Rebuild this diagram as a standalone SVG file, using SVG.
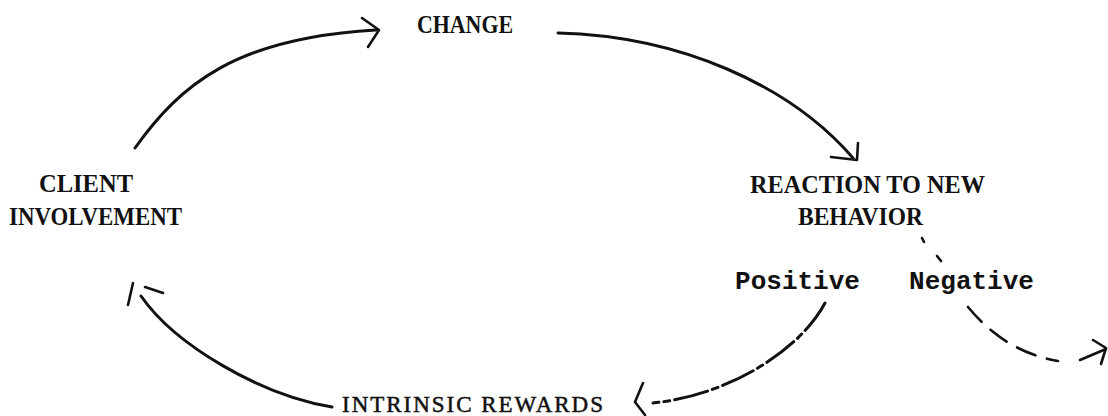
<svg xmlns="http://www.w3.org/2000/svg" width="1108" height="416" viewBox="0 0 1108 416">
  <style>
    .lbl { font-family: "Liberation Serif", "DejaVu Serif", serif; font-size: 25px; font-weight: bold; fill: #111; }
    .mono { font-family: "Liberation Mono", "DejaVu Sans Mono", monospace; font-size: 26px; font-weight: bold; fill: #111; }
    .light { font-weight: normal; font-size: 23px; stroke: #111; stroke-width: 0.5; }
    .ink { fill: none; stroke: #111; stroke-width: 3; stroke-linecap: round; stroke-linejoin: round; }
    .thin { stroke-width: 2.6; }
    .dash { stroke-dasharray: 20 12; }
    .broken { stroke-dasharray: 34 5 6 5; }
  </style>
  <rect width="1108" height="416" fill="#fff"/>

  <g id="connectors">
    <!-- client involvement -> change -->
    <path class="ink" d="M135,148 C180,85 235,38 376,30"/>
    <path class="ink thin" d="M362,18 L379,30 L368,47"/>
    <!-- change -> reaction -->
    <path class="ink" d="M558,33 C680,36 790,85 853,158"/>
    <path class="ink thin" d="M858,143 L857,160 L831,157"/>
    <!-- reaction -> negative (dotted lead) -->
    <path class="ink thin" d="M922,238 L924,242"/>
    <path class="ink thin" d="M937,256 L941,261"/>
    <!-- negative -> out -->
    <path class="ink thin dash" d="M968,307 Q1005,352 1058,361"/>
    <path class="ink thin" d="M1080,360 L1106,349"/>
    <path class="ink thin" d="M1093,340 L1106,348 L1101,364"/>
    <!-- positive -> intrinsic rewards -->
    <path class="ink broken" d="M825,303 C800,350 730,395 653,403"/>
    <path class="ink thin" d="M643,383 L635,402 L645,415"/>
    <!-- intrinsic rewards -> client involvement -->
    <path class="ink" d="M332,407 C260,395 175,345 141,296"/>
    <path class="ink thin" d="M133,283 L128,305"/>
    <path class="ink thin" d="M145,287 L163,293"/>
  </g>

  <g id="change">
    <text class="lbl" x="417" y="33" textLength="96" lengthAdjust="spacingAndGlyphs">CHANGE</text>
  </g>
  <g id="client-involvement">
    <text class="lbl" x="39" y="192" textLength="94" lengthAdjust="spacingAndGlyphs">CLIENT</text>
    <text class="lbl" x="9" y="225" textLength="173" lengthAdjust="spacingAndGlyphs">INVOLVEMENT</text>
  </g>
  <g id="reaction">
    <text class="lbl" x="750" y="193" textLength="235" lengthAdjust="spacingAndGlyphs">REACTION TO NEW</text>
    <text class="lbl" x="798" y="225" textLength="125" lengthAdjust="spacingAndGlyphs">BEHAVIOR</text>
  </g>
  <g id="positive">
    <text class="mono" x="797.5" y="289" text-anchor="middle">Positive</text>
  </g>
  <g id="negative">
    <text class="mono" x="971.5" y="289" text-anchor="middle">Negative</text>
  </g>
  <g id="intrinsic-rewards">
    <text class="lbl light" x="342" y="412" textLength="261" lengthAdjust="spacing">INTRINSIC REWARDS</text>
  </g>
</svg>
